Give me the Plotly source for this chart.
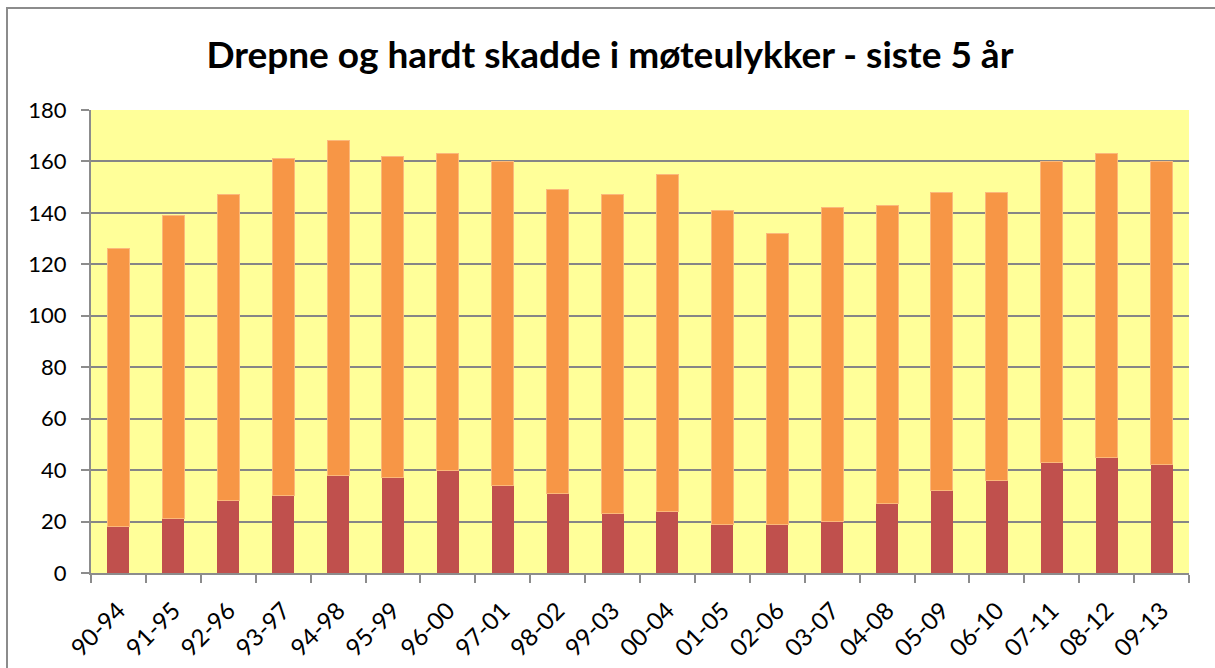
import plotly.graph_objects as go

# Periods (5-year rolling windows)
perioder = ["90-94", "91-95", "92-96", "93-97", "94-98", "95-99", "96-00", "97-01",
            "98-02", "99-03", "00-04", "01-05", "02-06", "03-07", "04-08", "05-09",
            "06-10", "07-11", "08-12", "09-13"]

# Killed (bottom segment) and total killed + seriously injured
drepte = [18, 21, 28, 30, 38, 37, 40, 34, 31, 23, 24, 19, 19, 20, 27, 32, 36, 43, 45, 42]
totalt = [126, 139, 147, 161, 168, 162, 163, 160, 149, 147, 155, 141, 132, 142, 143, 148, 148, 160, 163, 160]
hardt_skadde = [t - d for t, d in zip(totalt, drepte)]

y_ticks = [0, 20, 40, 60, 80, 100, 120, 140, 160, 180]

font_family = "Lato, 'Open Sans', sans-serif"

fig = go.Figure()
fig.add_trace(go.Bar(
    x=perioder, y=drepte, name="Drepte",
    marker=dict(color="#C0504D", line=dict(width=0)),
))
fig.add_trace(go.Bar(
    x=perioder, y=hardt_skadde, name="Hardt skadde",
    marker=dict(color="#F79646", line=dict(width=1, color="#FBB97A")),
))

# Outer chart border (left and top visible, rest cropped)
fig.add_shape(type="rect", xref="paper", yref="paper",
              x0=-0.0765, x1=1.2, y0=-0.4, y1=1.2203,
              line=dict(color="#8C8C8C", width=2), layer="below")

fig.update_layout(
    barmode="stack",
    bargap=0.6,
    showlegend=False,
    width=1215, height=668,
    margin=dict(l=91, r=26, t=110, b=95),
    paper_bgcolor="white",
    plot_bgcolor="#FFFF99",
    title=dict(
        text="<b>Drepne og hardt skadde i møteulykker - siste 5 år</b>",
        x=0.502, xanchor="center", y=0.918, yanchor="middle",
        font=dict(family=font_family, size=37, color="black"),
    ),
    font=dict(family=font_family, color="black"),
)

fig.update_xaxes(
    type="category",
    tickangle=-45,
    tickfont=dict(size=24),
    showgrid=False,
    showline=True, linecolor="#8C8C8C", linewidth=2,
    ticks="outside", ticklen=8, tickcolor="#8C8C8C", tickwidth=2,
    tickson="boundaries",
    ticklabelstandoff=12,
    automargin=False,
)
fig.update_yaxes(
    range=[0, 180],
    tickvals=y_ticks,
    tickfont=dict(size=22),
    showgrid=True, gridcolor="#868686", gridwidth=2,
    zeroline=False,
    showline=True, linecolor="#8C8C8C", linewidth=2,
    ticks="outside", ticklen=8, tickcolor="#8C8C8C", tickwidth=2,
    ticklabelstandoff=10,
    automargin=False,
)

# remove default page margin so the figure sits at the window's top-left corner
fig.write_html("out.html", config={"displayModeBar": False},
               post_script="document.body.style.margin='0';")
